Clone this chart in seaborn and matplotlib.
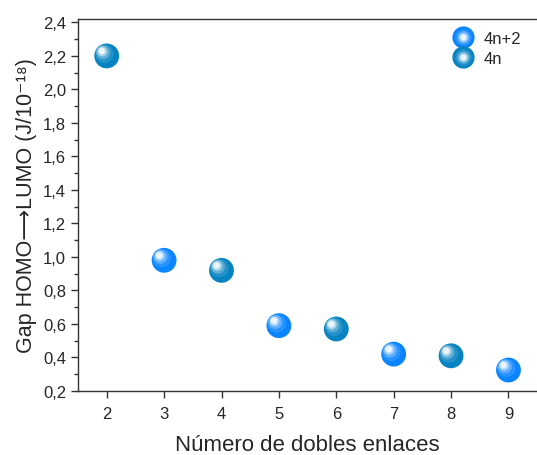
import numpy as np
import pandas as pd
import matplotlib
matplotlib.use("Agg")
import matplotlib.pyplot as plt
import matplotlib.ticker as mticker
from matplotlib.transforms import offset_copy
from matplotlib.lines import Line2D
from matplotlib.legend_handler import HandlerTuple
import matplotlib.colors as mcolors
import seaborn as sns

# data
dobles_enlaces = [2, 3, 4, 5, 6, 7, 8, 9]
gap = [2.20, 0.98, 0.92, 0.59, 0.57, 0.42, 0.41, 0.325]
regla = ["4n", "4n+2", "4n", "4n+2", "4n", "4n+2", "4n", "4n+2"]

colores = {"4n+2": "#0a84ff", "4n": "#0683c0"}
orden = ["4n+2", "4n"]

df = pd.DataFrame({"n": dobles_enlaces, "gap": gap, "tipo": regla})

sns.set_style("ticks")
plt.rcParams["font.family"] = ["Liberation Sans", "DejaVu Sans"]

fig = plt.figure(figsize=(5.37, 4.56), dpi=100)
ax = fig.add_axes([0.1453, 0.1404, 0.855, 0.8156])

S = 320
sns.scatterplot(data=df, x="n", y="gap", hue="tipo", hue_order=orden,
                palette=colores, s=S, edgecolor="none", linewidth=0,
                legend=False, ax=ax, zorder=3)

# shading layers to get the "sphere" look
capas = [(0.55, 0.12, 1.6, 1.6), (0.32, 0.35, 2.6, 2.6), (0.16, 0.65, 3.2, 3.2),
         (0.07, 0.92, 3.5, 3.5)]
for tipo in orden:
    sub = df[df["tipo"] == tipo]
    base = np.array(mcolors.to_rgb(colores[tipo]))
    for frac, mezcla, dx, dy in capas:
        c = base * (1 - mezcla) + np.ones(3) * mezcla
        tr = offset_copy(ax.transData, fig=fig, x=-dx, y=dy, units="points")
        ax.scatter(sub["n"], sub["gap"], s=S * frac, color=c,
                   edgecolor="none", transform=tr, zorder=4)

ax.set_xlim(1.5, 9.5)
ax.set_ylim(0.2, 2.42)
ax.set_xticks(dobles_enlaces)
ax.set_yticks(np.arange(0.2, 2.41, 0.2))
ax.yaxis.set_minor_locator(mticker.MultipleLocator(0.1))
ax.yaxis.set_major_formatter(mticker.FuncFormatter(lambda v, p: f"{v:.1f}".replace(".", ",")))
ax.tick_params(axis="both", which="major", labelsize=12, length=5, width=1, color="#333333")
ax.tick_params(axis="y", which="minor", length=3, width=1, color="#333333")
ax.tick_params(axis="x", pad=6)

for side in ["left", "bottom", "top"]:
    ax.spines[side].set_color("#333333")
    ax.spines[side].set_linewidth(1.0)
ax.spines["right"].set_visible(False)

ax.set_xlabel("Número de dobles enlaces", fontsize=16, labelpad=9)
ax.set_ylabel("Gap HOMO\u27f6LUMO (J/10\u207b\u00b9\u2078)", fontsize=15.5, labelpad=4)

handles = []
for tipo in orden:
    base = np.array(mcolors.to_rgb(colores[tipo]))
    h = [Line2D([], [], marker="o", linestyle="none", markersize=16,
                markerfacecolor=base, markeredgecolor="none")]
    for frac, mezcla, dx, dy in capas:
        c = base * (1 - mezcla) + np.ones(3) * mezcla
        h.append(Line2D([], [], marker="o", linestyle="none",
                        markersize=16 * np.sqrt(frac), markerfacecolor=c,
                        markeredgecolor="none"))
    handles.append(tuple(h))

ax.legend(handles, orden, loc="upper right", frameon=False, fontsize=12,
          handler_map={tuple: HandlerTuple(ndivide=1, pad=0)},
          handlelength=1.2, handletextpad=0.6, labelspacing=0.3,
          borderaxespad=0.3, bbox_to_anchor=(0.99, 1.0))

fig.savefig("out.png", dpi=100)
